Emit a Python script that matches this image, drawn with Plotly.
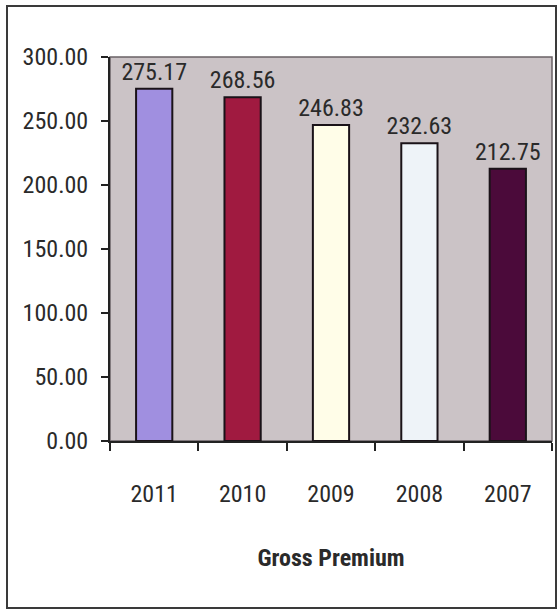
import plotly.graph_objects as go

# Gross premium by year
years = ["2011", "2010", "2009", "2008", "2007"]
premium = [275.17, 268.56, 246.83, 232.63, 212.75]
bar_colors = ["#a08fe0", "#a01a40", "#fffde8", "#eef3f8", "#4b0a3a"]
y_ticks = [0, 50, 100, 150, 200, 250, 300]

W, H = 557, 609
L, R, T, B = 110, 5, 57, 168

FONT = "Liberation Sans Narrow, Arial Narrow, Roboto Condensed, Liberation Sans, sans-serif"

fig = go.Figure(
    go.Bar(
        x=years,
        y=premium,
        marker=dict(color=bar_colors, line=dict(color="#1a1218", width=2)),
        width=0.41,
        text=[f"{v:.2f}" for v in premium],
        textposition="outside",
        constraintext="none",
        textfont=dict(family=FONT, size=24, color="#2a2a2a"),
        cliponaxis=False,
    )
)

pw = W - L - R
ph = H - T - B


def px_x(p):
    return (p - L) / pw


def px_y(p):
    return (H - B - p) / ph


fig.update_layout(
    width=W,
    height=H,
    margin=dict(l=L, r=R, t=T, b=B),
    paper_bgcolor="white",
    plot_bgcolor="#cbc3c6",
    showlegend=False,
    font=dict(family=FONT, color="#2a2a2a"),
    xaxis=dict(
        showgrid=False,
        showline=True,
        linecolor="#222",
        linewidth=2,
        ticks="outside",
        ticklen=8,
        tickwidth=2,
        tickcolor="#222",
        tickson="boundaries",
        tickfont=dict(family=FONT, size=24, color="#2a2a2a"),
        ticklabelstandoff=30,
        title=dict(
            text="<b>Gross Premium</b>",
            font=dict(family=FONT, size=24, color="#2a2a2a"),
            standoff=42,
        ),
    ),
    yaxis=dict(
        range=[0, 300],
        tickvals=y_ticks,
        ticktext=[f"{v:.2f}" for v in y_ticks],
        showgrid=False,
        zeroline=False,
        showline=True,
        linecolor="#222",
        linewidth=2,
        ticks="outside",
        ticklen=7,
        tickwidth=2,
        tickcolor="#222",
        tickfont=dict(family=FONT, size=24, color="#2a2a2a"),
        ticklabelstandoff=8,
    ),
    shapes=[
        # plot-area border
        dict(type="rect", xref="paper", yref="paper", x0=0, x1=1, y0=0, y1=1,
             line=dict(color="#6a6266", width=1.5), layer="below"),
        # outer chart frame
        dict(type="rect", xref="paper", yref="paper",
             x0=px_x(7), x1=px_x(556), y0=px_y(608), y1=px_y(6),
             line=dict(color="#3a3a3a", width=2)),
    ],
)

fig.write_html("out.html")
